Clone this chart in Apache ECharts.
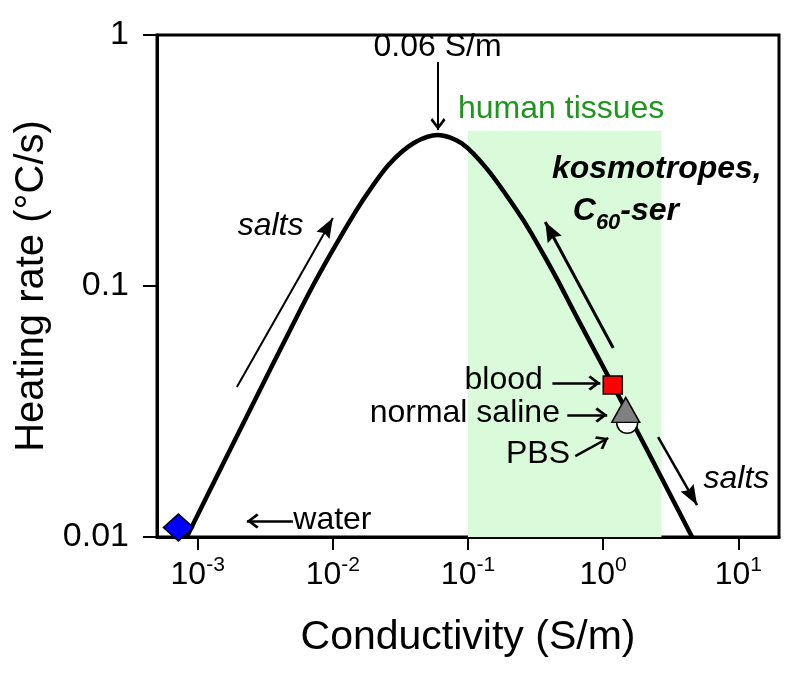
<!DOCTYPE html>
<html><head><meta charset="utf-8">
<script src="https://cdn.jsdelivr.net/npm/echarts@6/dist/echarts.min.js"></script>
<style>html,body{margin:0;padding:0;background:#fff}#c{width:800px;height:681px}</style>
</head><body><div id="c"></div>
<script>
// ---------- data ----------
const curveSigma = [8.3e-4, 1.5e-3, 2.7e-3, 4.5e-3, 7.1e-3, 0.011, 0.017, 0.026, 0.04, 0.06, 0.09, 0.14, 0.245, 0.32, 0.45, 0.64, 1.18, 2.2, 4.55];
const curveRate  = [0.010, 0.0190, 0.0358, 0.0619, 0.100, 0.152, 0.223, 0.305, 0.372, 0.40, 0.37, 0.29, 0.190, 0.150, 0.108, 0.075, 0.0403, 0.0213, 0.010];

const markerNames = ['water', 'blood', 'PBS', 'normal saline'];
const markerSigma = [7.2e-4, 1.178, 1.506, 1.469];
const markerRate  = [0.0109, 0.0403, 0.0285, 0.0321];

const tissueSigma = [0.1, 2.7];
const tissueRate  = [0.01, 0.415];

const xTickValues = [0.001, 0.01, 0.1, 1, 10];
const xTickExponents = ['-3', '-2', '-1', '0', '1'];
const yTickValues = [0.01, 0.1, 1];
const yTickLabels = ['0.01', '0.1', '1'];

const noteTexts = ['0.06 S/m', 'human tissues', 'salts', 'kosmotropes,', 'C60-ser', 'salts', 'blood', 'normal saline', 'PBS', 'water'];
const noteSigma = [0.06, 0.0851, 3.49e-3, 0.421, 0.601, 9.77, 0.361, 0.483, 0.573, 5.14e-3];
const noteRate  = [0.888, 0.505, 0.173, 0.290, 0.197, 0.01687, 0.0418, 0.0309, 0.0212, 0.01158];

const arrowFrom = [[0.06, 0.780], [1.95e-3, 0.0396], [1.187, 0.0566], [2.55, 0.025], [0.421, 0.0411], [0.543, 0.0306], [0.622, 0.0210], [5.06e-3, 0.01158]];
const arrowTo   = [[0.06, 0.418], [0.01, 0.1866], [0.373, 0.180], [4.95, 0.0134], [0.953, 0.0411], [1.072, 0.0306], [1.091, 0.0248], [2.31e-3, 0.01158]];

// ---------- styling ----------
const FONT = 'Liberation Sans';
const noteStyles = [
  {align: 'center'},
  {align: 'left', color: '#1e961e'},
  {align: 'center', fontStyle: 'italic'},
  {align: 'left', fontStyle: 'italic', fontWeight: 'bold'},
  {align: 'left', rich: true},
  {align: 'center', fontStyle: 'italic'},
  {align: 'right'},
  {align: 'right'},
  {align: 'right'},
  {align: 'left'}
];
const OPEN = 'path://M50,0 L100,82 L88,100 L50,36 L12,100 L0,82 Z';
const FILLED = 'path://M50,0 L100,100 L50,86 L0,100 Z';
const arrowStyles = [
  {head: OPEN, size: [15, 12], width: 2},
  {head: FILLED, size: [15, 20], width: 2},
  {head: FILLED, size: [16, 20], width: 3},
  {head: FILLED, size: [15, 20], width: 2.5},
  {head: OPEN, size: [15, 12], width: 2.5},
  {head: OPEN, size: [15, 12], width: 2.5},
  {head: OPEN, size: [15, 12], width: 2.5},
  {head: OPEN, size: [15, 12], width: 2.5}
];
const markerStyles = [
  {symbol: 'diamond', size: [30, 27], color: '#0000ff'},
  {symbol: 'rect', size: [19, 18], color: '#ff0000'},
  {symbol: 'circle', size: [21, 21], color: '#ffffff'},
  {symbol: 'triangle', size: [28, 25], color: '#808080'}
];

const curveData = curveSigma.map((s, i) => [s, curveRate[i]]);

const arrowData = arrowFrom.map((f, i) => {
  const st = arrowStyles[i];
  return [
    {coord: f, symbol: 'none', lineStyle: {width: st.width, color: '#000', type: 'solid'}},
    {coord: arrowTo[i], symbol: st.head, symbolSize: st.size, symbolOffset: [0, st.size[1] / 2]}
  ];
});

const noteData = noteTexts.map((t, i) => {
  const st = noteStyles[i];
  const label = {
    show: true, position: [0, 0], align: st.align, verticalAlign: 'middle',
    fontFamily: FONT, fontSize: 32, color: st.color || '#000', opacity: 1,
    fontStyle: st.fontStyle || 'normal', fontWeight: st.fontWeight || 'normal',
    textBorderWidth: 0
  };
  if (st.rich) {
    label.formatter = '{c|C}{sub|60}{c|-ser}';
    label.rich = {
      c: {fontFamily: FONT, fontSize: 32, fontStyle: 'italic', fontWeight: 'bold', color: '#000', lineHeight: 34},
      sub: {fontFamily: FONT, fontSize: 22, fontStyle: 'italic', fontWeight: 'bold', color: '#000', lineHeight: 22, padding: [22, 0, 0, 0]}
    };
  } else {
    label.formatter = t;
  }
  return {value: [noteSigma[i], noteRate[i]], label};
});

const markerSeries = markerNames.map((n, i) => ({
  type: 'scatter', name: n, z: 5 + i, silent: true,
  symbol: markerStyles[i].symbol, symbolSize: markerStyles[i].size,
  itemStyle: {color: markerStyles[i].color, borderColor: '#000', borderWidth: 1.5, opacity: 1},
  data: [[markerSigma[i], markerRate[i]]]
}));

const chart = echarts.init(document.getElementById('c'), null, {renderer: 'canvas'});
chart.setOption({
  animation: false,
  backgroundColor: '#fff',
  grid: {left: 157, right: 21, top: 35, bottom: 144, show: true, borderColor: '#000', borderWidth: 3, containLabel: false, outerBoundsMode: 'none'},
  xAxis: {
    type: 'log', logBase: 10, min: 5e-4, max: 20,
    name: 'Conductivity (S/m)', nameLocation: 'middle', nameGap: 80,
    nameTextStyle: {fontFamily: FONT, fontSize: 41, color: '#000'},
    axisLine: {show: true, lineStyle: {color: '#000', width: 3}},
    axisTick: {show: true, inside: false, length: 13, lineStyle: {color: '#000', width: 2}, customValues: xTickValues},
    splitLine: {show: false},
    minorTick: {show: false},
    axisLabel: {
      show: true, margin: 18, customValues: xTickValues,
      formatter: (v) => {
        let idx = xTickValues.findIndex(t => Math.abs(Math.log10(t) - Math.log10(v)) < 1e-6);
        if (idx < 0) return '';
        return '{b|10}{s|' + xTickExponents[idx] + '}';
      },
      rich: {
        b: {fontFamily: FONT, fontSize: 32, color: '#000', lineHeight: 40},
        s: {fontFamily: FONT, fontSize: 21, color: '#000', lineHeight: 16, verticalAlign: 'top'}
      }
    }
  },
  yAxis: {
    type: 'log', logBase: 10, min: 0.01, max: 1,
    name: 'Heating rate (°C/s)', nameLocation: 'middle', nameGap: 98, nameRotate: 90,
    nameTextStyle: {fontFamily: FONT, fontSize: 40, color: '#000'},
    axisLine: {show: true, lineStyle: {color: '#000', width: 3}},
    axisTick: {show: true, inside: false, length: 14, lineStyle: {color: '#000', width: 2}},
    splitLine: {show: false},
    minorTick: {show: false},
    axisLabel: {
      show: true, margin: 28, fontFamily: FONT, fontSize: 34, color: '#000',
      formatter: (v) => {
        let idx = yTickValues.findIndex(t => Math.abs(Math.log10(t) - Math.log10(v)) < 1e-6);
        return idx < 0 ? '' : yTickLabels[idx];
      }
    }
  },
  series: [
    {
      type: 'line', z: 1, silent: true, data: [], symbol: 'none',
      markArea: {silent: true, itemStyle: {color: '#d9fbd9'}, data: [[{coord: [tissueSigma[0], tissueRate[0]]}, {coord: [tissueSigma[1], tissueRate[1]]}]]}
    },
    {
      type: 'line', z: 3, silent: true, data: curveData, symbol: 'none', smooth: 0.3,
      lineStyle: {color: '#000', width: 4.5},
      markLine: {silent: true, animation: false, label: {show: false}, symbol: ['none', 'none'], lineStyle: {type: 'solid', color: '#000'}, data: arrowData}
    },
    ...markerSeries,
    {
      type: 'scatter', z: 20, silent: true, symbolSize: 1, itemStyle: {color: 'rgba(255,255,255,0)'},
      emphasis: {disabled: true},
      data: noteData
    }
  ]
});
</script>
</body></html>
